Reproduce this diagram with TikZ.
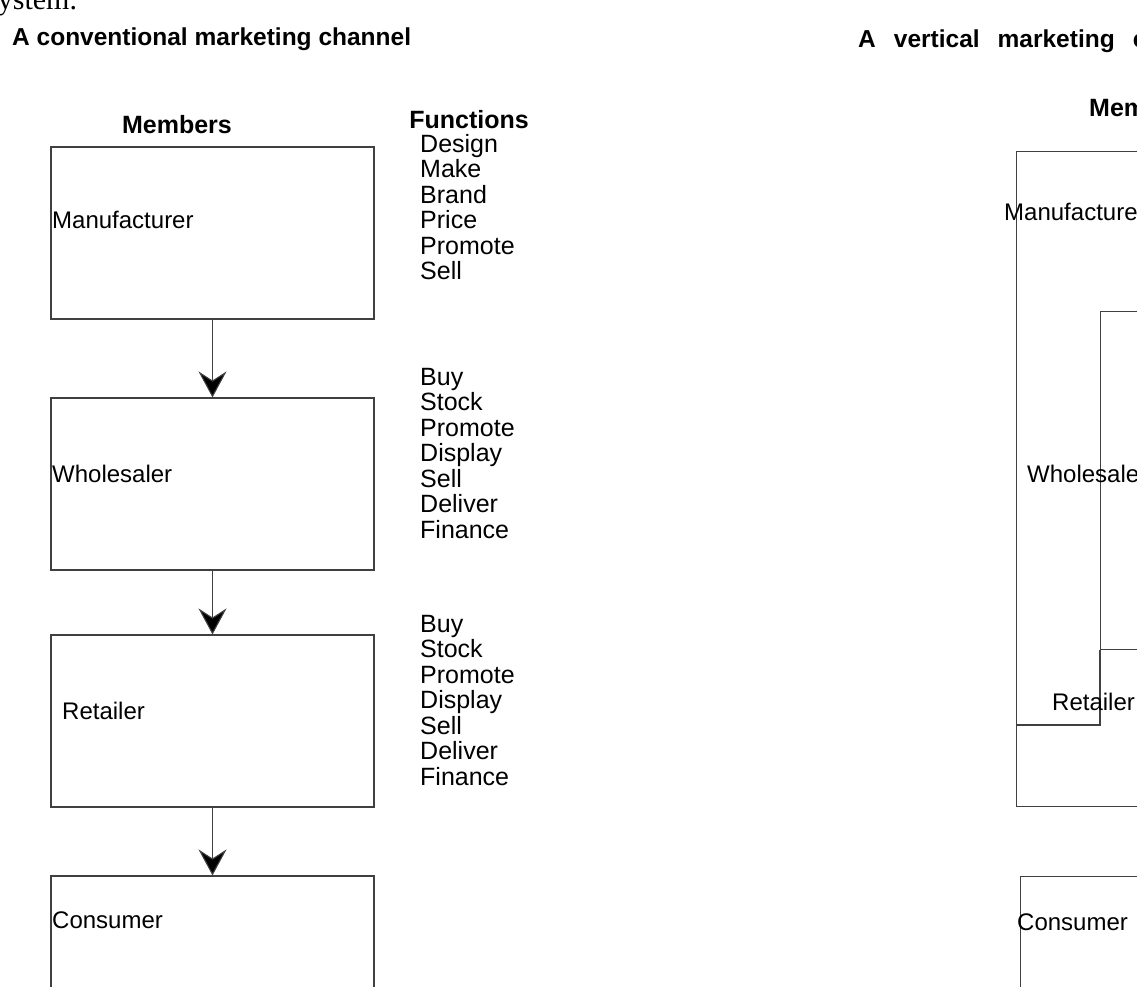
\documentclass[tikz,border=0pt]{standalone}
\usepackage{fontspec}
\setmainfont{Liberation Sans}
\newfontfamily\captionserif{Liberation Serif}
\usetikzlibrary{positioning, arrows.meta}

\begin{document}
\begin{tikzpicture}[x=1pt, y=-1pt,
    box/.style={
        draw=black!75, line width=1.1pt, inner sep=0pt,
        minimum width=323pt, minimum height=172pt,
    },
    lbl/.style={
        anchor=base west, inner sep=0pt,
        font=\fontsize{24}{26}\selectfont,
    },
    func/.style={
        anchor=north west, inner sep=0pt, align=left,
        font=\fontsize{25}{25.5}\selectfont,
    },
    head/.style={
        inner sep=0pt,
        font=\bfseries\fontsize{25}{27}\selectfont,
    },
    ttl/.style={
        anchor=base west, inner sep=0pt,
        font=\bfseries\fontsize{24.5}{26}\selectfont,
    },
    flow/.style={
        draw=black!75, line width=1.1pt,
        -{Stealth[length=26pt, width=28pt, inset=9pt, fill=black]},
    },
    edge/.style={draw=black!75, line width=1.1pt},
]

\useasboundingbox (0,0) rectangle (1137,987);
\clip (0,0) rectangle (1137,987);

%--- Titles ---
\node[anchor=base west, inner sep=0pt, font=\captionserif\fontsize{30}{32}\selectfont]
    (sys) at (-14,10) {system.};
\node[ttl] (cmc) at (12,46) {A conventional marketing channel};
\node[ttl] (vmc) at (858,48)
    {A\hspace{18pt}vertical\hspace{18pt}marketing\hspace{18pt}channel};

%--- Column heads ---
\node[head, anchor=base] (mem) at (177,134) {Members};
\node[head, anchor=base] (fun) at (469,129) {Functions};
\node[head, anchor=base west] (vmem) at (1089,117) {Members};

%--- Conventional channel: member boxes ---
\node[box] (man) at (212.5,233) {};
\node[box] (whl) at (212.5,484) {};
\node[box] (rtl) at (212.5,721) {};
\node[box] (con) at (212.5,962) {};

\node[lbl] (manl) at (52,229) {Manufacturer};
\node[lbl] (whll) at (52,482) {Wholesaler};
\node[lbl] (rtll) at (62,719) {Retailer};
\node[lbl] (conl) at (52,928) {Consumer};

\draw[flow] (man) -- (whl);
\draw[flow] (whl) -- (rtl);
\draw[flow] (rtl) -- (con);

%--- Functions ---
\node[func] (fman) at (420,134) {Design\\Make\\Brand\\Price\\Promote\\Sell};
\node[func] (fwhl) at (420,368) {Buy\\Stock\\Promote\\Display\\Sell\\Deliver\\Finance};
\node[func] (frtl) at (420,615) {Buy\\Stock\\Promote\\Display\\Sell\\Deliver\\Finance};

%--- Vertical marketing channel ---
\node[box, anchor=north west, minimum width=300pt, minimum height=655pt] (vman) at (1016,151) {};
\node[box, anchor=north west, minimum width=200pt, minimum height=338pt] (vwhl) at (1100,311) {};
\coordinate (vrtl) at (1016,725);
\draw[edge] (vwhl.south west) |- (vrtl);
\node[box, anchor=north west, minimum width=300pt] (vcon) at (1020,876) {};

\node[lbl] (vmanl) at (1004,220) {Manufacturer};
\node[lbl] (vwhll) at (1027,482) {Wholesaler};
\node[lbl] (vrtll) at (1052,710) {Retailer};
\node[lbl] (vconl) at (1017,930) {Consumer};

\end{tikzpicture}
\end{document}
